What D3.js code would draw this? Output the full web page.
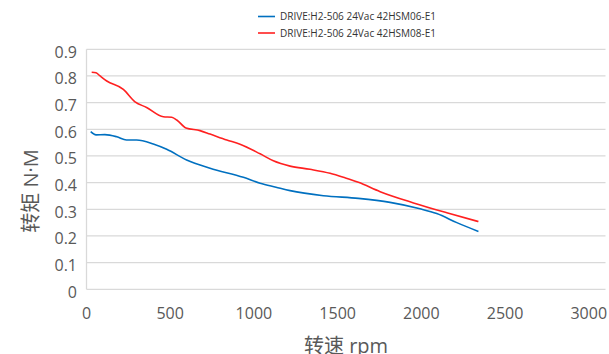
<!DOCTYPE html>
<html>
<head>
<meta charset="utf-8">
<script src="https://cdn.jsdelivr.net/npm/d3@7"></script>
<style>
  body { margin: 0; background: #fff; }
  svg { display: block; font-family: "Open Sans", "Noto Sans CJK SC", sans-serif; }
</style>
</head>
<body>
<svg id="chart"></svg>
<script>
//series: [rpm, torque N·M]
var blueSeries = [[25,0.591],[57,0.579],[110,0.580],[181,0.572],[239,0.560],[299,0.560],
                  [399,0.545],[479,0.525],[598,0.485],[738,0.454],[937,0.420],[1037,0.398],
                  [1132,0.383],[1216,0.370],[1415,0.351],[1624,0.341],[1813,0.326],[1992,0.302],
                  [2092,0.284],[2212,0.250],[2341,0.217]];
var redSeries = [[31,0.814],[57,0.812],[81,0.800],[121,0.781],[220,0.750],[290,0.703],
                 [359,0.682],[459,0.647],[509,0.645],[539,0.635],[594,0.605],[678,0.595],
                 [738,0.582],[838,0.560],[917,0.544],[1037,0.508],[1116,0.482],[1216,0.462],
                 [1335,0.450],[1455,0.435],[1544,0.418],[1624,0.401],[1754,0.366],[1953,0.324],
                 [2152,0.287],[2341,0.254]];
var seriesNames = ['DRIVE:H2-506 24Vac 42HSM06-E1', 'DRIVE:H2-506 24Vac 42HSM08-E1'];
var seriesColors = ['#0070c0', '#ff2020'];
var xTicks = [0, 500, 1000, 1500, 2000, 2500, 3000];
var yTicks = [0, 0.1, 0.2, 0.3, 0.4, 0.5, 0.6, 0.7, 0.8, 0.9];
var xTitle = '转速 rpm';
var yTitle = '转矩 N·M';

//chart parameters
var svg = d3.select('#chart')
    .attr('width', 609)
    .attr('height', 354);

//scales
var x = d3.scaleLinear().domain([0, 3100]).range([86.5, 605.5]);
var y = d3.scaleLinear().domain([0, 0.9]).range([289.3, 49.3]);

//gridlines
svg.append('g').selectAll('line').data(yTicks.slice(1))
    .enter().append('line')
        .attr('x1', x(0)).attr('x2', x.range()[1])
        .attr('y1', d => y(d)).attr('y2', d => y(d))
        .attr('stroke', '#d9d9d9')
        .attr('stroke-width', 1.3);

//axis lines
svg.append('line')
    .attr('x1', x(0)).attr('x2', x.range()[1])
    .attr('y1', y(0)).attr('y2', y(0))
    .attr('stroke', '#d9d9d9').attr('stroke-width', 1.3);
svg.append('line')
    .attr('x1', x(0)).attr('x2', x(0))
    .attr('y1', y(0)).attr('y2', y(0.9))
    .attr('stroke', '#d9d9d9').attr('stroke-width', 1.3);

//tick labels
svg.append('g').selectAll('text').data(yTicks)
    .enter().append('text')
        .attr('x', 77)
        .attr('y', d => y(d) + 8.5)
        .attr('text-anchor', 'end')
        .attr('font-size', 16)
        .attr('fill', '#595959')
        .text(d => d === 0 ? '0' : d3.format('.1f')(d));

svg.append('g').selectAll('text').data(xTicks)
    .enter().append('text')
        .attr('x', d => x(d))
        .attr('y', 318.5)
        .attr('text-anchor', 'middle')
        .attr('font-size', 16)
        .attr('fill', '#595959')
        .text(d => d);

//axis titles
svg.append('text')
    .attr('x', 346).attr('y', 353)
    .attr('text-anchor', 'middle')
    .attr('font-size', 20)
    .attr('fill', '#595959')
    .text(xTitle);

svg.append('text')
    .attr('transform', 'translate(38,191) rotate(-90)')
    .attr('text-anchor', 'middle')
    .attr('font-size', 20)
    .attr('fill', '#595959')
    .text(yTitle);

//lines
var line = d3.line()
    .x(d => x(d[0]))
    .y(d => y(d[1]))
    .curve(d3.curveMonotoneX);

[blueSeries, redSeries].forEach(function(s, i) {
    svg.append('path')
        .datum(s)
        .attr('fill', 'none')
        .attr('stroke', seriesColors[i])
        .attr('stroke-width', 1.6)
        .attr('d', line);
});

//legend
var legend = svg.append('g').selectAll('g').data(seriesNames)
    .enter().append('g')
        .attr('transform', (d, i) => 'translate(258,' + (16.5 + i * 16.5) + ')');
legend.append('line')
    .attr('x1', 0).attr('x2', 17)
    .attr('stroke', (d, i) => seriesColors[i])
    .attr('stroke-width', 1.6);
legend.append('text')
    .attr('x', 22).attr('y', 3.8)
    .attr('font-size', 10)
    .attr('fill', '#333')
    .text(d => d);
</script>
</body>
</html>
